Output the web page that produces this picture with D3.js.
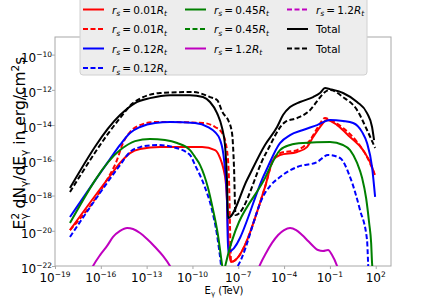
<!DOCTYPE html>
<html><head><meta charset="utf-8">
<script src="https://cdn.jsdelivr.net/npm/d3@7"></script>
<style>body{margin:0;background:#fff}svg{display:block;font-family:"DejaVu Sans",sans-serif}</style>
</head><body><svg id="c" width="436" height="300"></svg>
<script>
// tick exponents
const xTickExps = [-19, -16, -13, -10, -7, -4, -1, 2];
const yTickExps = [-22, -20, -18, -16, -14, -12, -10];
// series values as [log10 E (TeV), log10 E^2 dN/dE (erg/cm^2 s)]
const rs001Solid = [[-18.02,-19.96],[-15.4,-16.89],[-14.74,-16.15],[-14.09,-15.59],[-13.43,-15.36],[-12.12,-15.25],[-9.96,-15.25],[-9.37,-15.25],[-8.52,-15.42],[-8.19,-15.87],[-8.0,-16.38],[-7.8,-17.4],[-7.74,-18.25],[-7.67,-20.13],[-7.54,-21.55],[-7.47,-21.77],[-5.25,-17.52],[-4.72,-15.98],[-4.27,-15.7],[-3.15,-15.53],[-2.5,-15.25],[-2.1,-14.68],[-1.65,-14.11],[-1.19,-13.71],[-0.53,-14.0],[0.32,-14.68],[1.17,-15.42],[1.76,-16.38],[1.89,-16.72]];
const rs001Dashed = [[-18.02,-19.96],[-15.72,-17.29],[-14.94,-15.98],[-14.55,-15.02],[-14.09,-14.4],[-13.43,-14.0],[-12.45,-13.83],[-11.47,-13.83],[-9.31,-13.88],[-8.52,-14.11],[-8.06,-14.45],[-7.74,-15.42],[-7.6,-17.29],[-7.54,-19.79],[-7.47,-21.77],[-5.25,-17.52],[-4.72,-15.98],[-4.27,-15.59],[-3.15,-15.42],[-2.3,-14.85],[-1.78,-14.11],[-1.32,-13.6],[-0.99,-13.71],[-0.14,-14.17],[0.78,-14.96],[1.43,-15.81],[1.96,-16.84]];
const rs012Solid = [[-18.02,-19.22],[-15.4,-15.93],[-14.74,-15.13],[-14.09,-14.45],[-13.43,-14.11],[-12.45,-13.88],[-11.47,-13.83],[-9.83,-13.88],[-8.98,-14.11],[-8.52,-14.4],[-8.19,-14.85],[-7.93,-15.98],[-7.74,-18.25],[-7.67,-21.21],[-5.25,-16.72],[-4.27,-15.02],[-3.61,-14.57],[-2.76,-14.28],[-1.84,-14.0],[-0.99,-13.71],[-0.14,-13.77],[0.52,-13.88],[1.11,-14.4],[1.43,-15.02],[1.76,-16.38],[1.96,-18.08]];
const rs012Dashed = [[-18.02,-20.35],[-14.74,-16.27],[-14.09,-15.53],[-13.43,-15.25],[-12.32,-15.13],[-11.27,-15.25],[-10.16,-15.7],[-9.83,-16.27],[-9.24,-17.4],[-8.72,-18.82],[-8.39,-20.24],[-8.19,-21.49],[-8.06,-22.34],[-7.31,-22.23],[-5.25,-17.86],[-4.92,-17.46],[-4.27,-16.95],[-3.15,-16.38],[-1.84,-16.1],[-1.12,-15.7],[-0.34,-15.87],[0.32,-16.95],[0.97,-18.82],[1.43,-20.52],[1.5,-21.83],[1.53,-22.51]];
const rs045Solid = [[-18.02,-19.56],[-14.74,-15.42],[-13.76,-14.91],[-12.78,-14.79],[-11.8,-14.85],[-11.0,-15.02],[-10.16,-15.42],[-9.83,-15.81],[-9.5,-16.27],[-8.98,-17.57],[-8.65,-18.82],[-8.33,-20.24],[-8.06,-21.94],[-7.96,-22.51],[-7.87,-22.06],[-5.25,-17.01],[-4.27,-15.42],[-3.61,-15.13],[-2.76,-15.02],[-0.99,-14.96],[-0.14,-15.13],[0.32,-15.42],[0.78,-16.15],[1.11,-17.01],[1.37,-18.14],[1.57,-19.56],[1.7,-20.69],[1.76,-21.83],[1.83,-22.51]];
const rs045Dashed = [];
const rs12Solid = [[-16.71,-22.34],[-16.51,-22.0],[-16.05,-21.38],[-15.59,-20.86],[-15.2,-20.35],[-14.74,-20.01],[-14.28,-19.84],[-13.89,-19.9],[-13.43,-20.13],[-12.97,-20.47],[-12.45,-20.92],[-11.93,-21.43],[-11.47,-22.0],[-11.27,-22.34],[-5.77,-22.34],[-5.58,-21.94],[-5.18,-21.26],[-4.79,-20.69],[-4.39,-20.24],[-4.0,-19.96],[-3.61,-19.84],[-3.21,-19.96],[-2.82,-20.24],[-2.43,-20.58],[-2.04,-20.92],[-1.78,-21.09],[-1.45,-21.15],[-1.12,-21.09],[-0.86,-21.38],[-0.53,-22.0],[-0.4,-22.34]];
const rs12Dashed = [];
const totalSolid = [[-18.02,-17.57],[-14.74,-13.43],[-13.76,-12.75],[-12.78,-12.47],[-11.47,-12.3],[-10.16,-12.3],[-9.31,-12.41],[-8.85,-12.69],[-8.39,-13.32],[-8.06,-14.17],[-7.87,-15.13],[-7.74,-17.12],[-7.67,-19.28],[-6.43,-17.12],[-5.25,-15.13],[-4.46,-14.11],[-4.07,-13.43],[-3.61,-12.98],[-2.96,-12.69],[-2.1,-12.41],[-1.65,-12.18],[-1.32,-11.9],[-0.99,-11.96],[-0.14,-12.18],[0.78,-12.69],[1.43,-13.32],[1.76,-14.11],[1.89,-14.85]];
const totalDashed = [[-18.02,-17.8],[-14.74,-13.6],[-13.89,-12.75],[-12.12,-12.18],[-9.96,-12.12],[-8.85,-12.41],[-8.39,-12.58],[-8.0,-13.32],[-7.67,-13.71],[-7.41,-14.45],[-7.28,-16.38],[-7.18,-19.11],[-5.25,-15.7],[-3.94,-13.83],[-3.15,-13.6],[-2.3,-13.15],[-1.78,-12.58],[-1.32,-12.12],[-0.99,-12.01],[-0.14,-12.41],[0.78,-13.15],[1.43,-14.28],[1.96,-15.3]];

const series = [
  {rs:"0.01", color:"#ff0000", dash:false, data:rs001Solid},
  {rs:"0.01", color:"#ff0000", dash:true,  data:rs001Dashed},
  {rs:"0.12", color:"#0000ff", dash:false, data:rs012Solid},
  {rs:"0.12", color:"#0000ff", dash:true,  data:rs012Dashed},
  {rs:"0.45", color:"#008000", dash:false, data:rs045Solid},
  {rs:"0.45", color:"#008000", dash:true,  data:rs045Dashed},
  {rs:"1.2",  color:"#bf00bf", dash:false, data:rs12Solid},
  {rs:"1.2",  color:"#bf00bf", dash:true,  data:rs12Dashed},
  {rs:null,   color:"#000000", dash:false, data:totalSolid},
  {rs:null,   color:"#000000", dash:true,  data:totalDashed}
];

const svg = d3.select("#c");
const L = 55, R = 391, T = 37, B = 266;
const x = d3.scaleLog().domain([1e-19, 1e3]).range([L, R]);
const y = d3.scaleLog().domain([1e-22, 1e-9]).range([B, T]);

svg.append("defs").append("clipPath").attr("id","clip")
  .append("rect").attr("x",L).attr("y",T).attr("width",R-L).attr("height",B-T);

const frame = "#a8a8a8";
const xa = svg.append("g").attr("transform",`translate(0,${B})`)
  .call(d3.axisBottom(x).tickValues(xTickExps.map(e=>Math.pow(10,e))).tickFormat("").tickSizeOuter(0).tickSize(3));
const ya = svg.append("g").attr("transform",`translate(${L},0)`)
  .call(d3.axisLeft(y).tickValues(yTickExps.map(e=>Math.pow(10,e))).tickFormat("").tickSizeOuter(0).tickSize(3));
[xa,ya].forEach(a=>{a.select(".domain").remove(); a.selectAll("line").attr("stroke",frame);});

svg.append("rect").attr("x",L).attr("y",T).attr("width",R-L).attr("height",B-T)
  .attr("fill","none").attr("stroke",frame).attr("stroke-width",1);

function expLabel(g, e, xx, yy, anchor){
  const t = g.append("text").attr("x",xx).attr("y",yy).attr("text-anchor",anchor)
    .attr("font-size",12).attr("fill","#000");
  t.append("tspan").text("10");
  t.append("tspan").attr("dy",-5).attr("font-size",7.5).text(e<0?"\u2212"+(-e):String(e));
}
xTickExps.forEach(e=>expLabel(svg, e, x(Math.pow(10,e)), 282, "middle"));
yTickExps.forEach(e=>expLabel(svg, e, 52, y(Math.pow(10,e))+7, "end"));

const line = d3.line().x(d=>x(Math.pow(10,d[0]))).y(d=>y(Math.pow(10,d[1]))).curve(d3.curveMonotoneX);
const gc = svg.append("g").attr("clip-path","url(#clip)");
series.forEach(s=>{
  if(!s.data.length) return;
  gc.append("path").attr("d",line(s.data)).attr("fill","none")
    .attr("stroke",s.color).attr("stroke-width",2)
    .attr("stroke-dasharray",s.dash?"5,2.5":null).attr("stroke-linejoin","round");
});

// x label
const xl = svg.append("text").attr("x",224).attr("y",294).attr("text-anchor","middle").attr("font-size",10);
xl.append("tspan").text("E");
xl.append("tspan").attr("dy",2).attr("font-size",7).text("\u03b3");
xl.append("tspan").attr("dy",-2).text(" (TeV)");

// y label
const yl = svg.append("text").attr("transform","translate(25,143) rotate(-90)").attr("text-anchor","middle").attr("font-size",15.5);
yl.append("tspan").text("E");
yl.append("tspan").attr("dy",-6).attr("font-size",10.5).text("2");
yl.append("tspan").attr("dx",-6.7).attr("dy",9).attr("font-size",10.5).text("\u03b3");
yl.append("tspan").attr("dy",-3).text(" dN");
yl.append("tspan").attr("dy",3).attr("font-size",10.5).text("\u03b3");
yl.append("tspan").attr("dy",-3).text("/dE");
yl.append("tspan").attr("dy",3).attr("font-size",10.5).text("\u03b3");
yl.append("tspan").attr("dy",-3).text(" in erg/cm");
yl.append("tspan").attr("dy",-6).attr("font-size",10.5).text("2");
yl.append("tspan").attr("dy",6).text("s");

// legend
const lg = svg.append("g");
lg.append("rect").attr("x",80).attr("y",-5).attr("width",287).attr("height",80).attr("rx",3)
  .attr("fill","#ededed").attr("stroke","#d0d0d0");
const colX = [83,185,287], rowY = [9.5,29,48.5,68];
const pos = [[0,0],[0,1],[0,2],[0,3],[1,0],[1,1],[1,2],[2,0],[2,1],[2,2]];
series.forEach((s,i)=>{
  const cx = colX[pos[i][0]], cy = rowY[pos[i][1]];
  lg.append("line").attr("x1",cx).attr("x2",cx+21).attr("y1",cy).attr("y2",cy)
    .attr("stroke",s.color).attr("stroke-width",2).attr("stroke-dasharray",s.dash?"5,2.5":null);
  const t = lg.append("text").attr("x",cx+29).attr("y",cy+4).attr("font-size",10.5);
  if(s.rs){
    t.append("tspan").attr("font-style","italic").text("r");
    t.append("tspan").attr("dy",2.5).attr("font-size",7.5).attr("font-style","italic").text("s");
    t.append("tspan").attr("dy",-2.5).text("\u2009=\u2009"+s.rs);
    t.append("tspan").attr("font-style","italic").text("R");
    t.append("tspan").attr("dy",2.5).attr("font-size",7.5).attr("font-style","italic").text("t");
  } else t.text("Total");
});
</script></body></html>
